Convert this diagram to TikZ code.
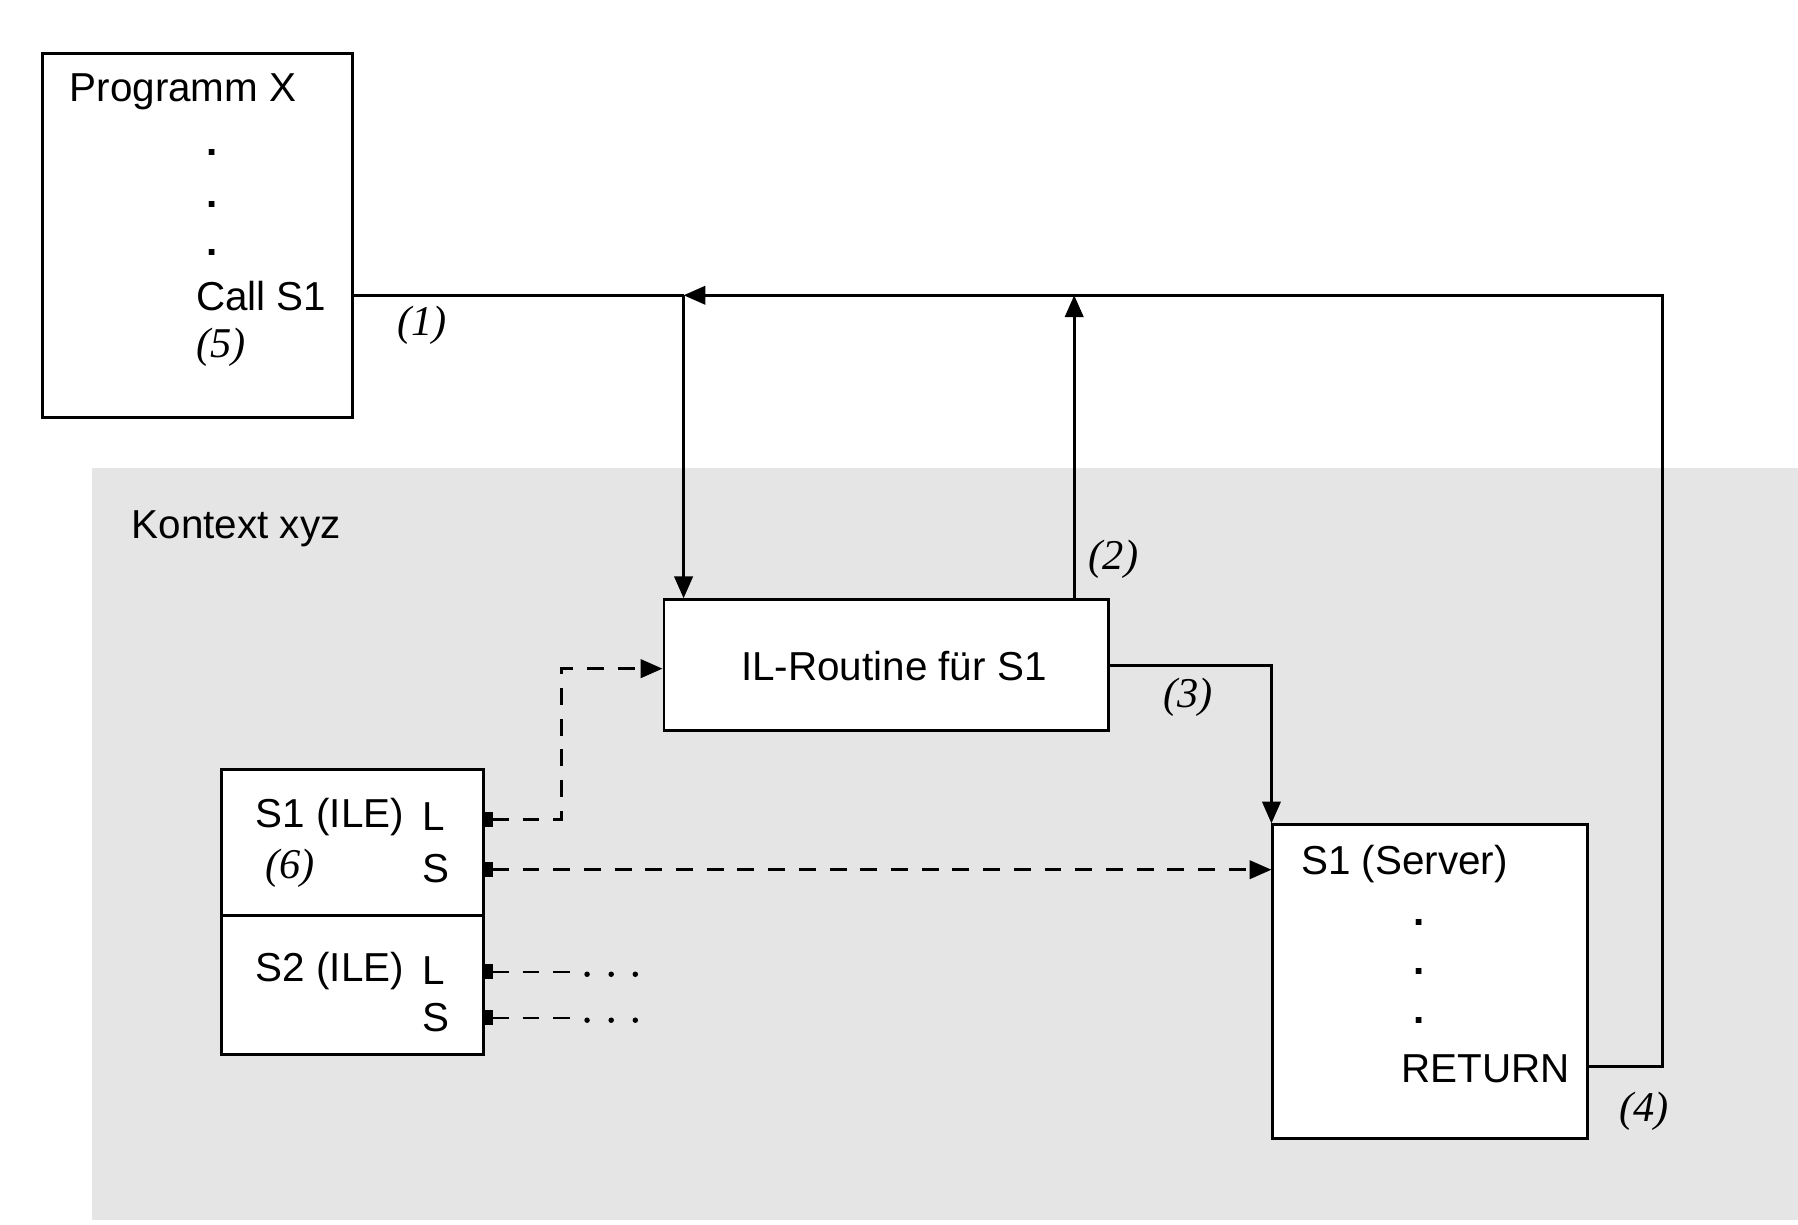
\documentclass[tikz,border=0pt]{standalone}
\usepackage{fontspec}
\setmainfont{Liberation Sans}
\newfontfamily\numfont{Liberation Serif}
\usetikzlibrary{arrows.meta}
\begin{document}
\begin{tikzpicture}[x=0.01cm,y=-0.01cm,
  box/.style={draw,line width=0.7pt,fill=white,rectangle,inner sep=0pt},
  txt/.style={inner sep=0pt,font=\fontsize{10}{12}\selectfont},
  num/.style={inner sep=0pt,font=\numfont\itshape\fontsize{10.5}{12}\selectfont},
  dotc/.style={inner sep=0pt,font=\bfseries\fontsize{10}{12}\selectfont},
  conn/.style={line width=0.7pt},
  arr/.style={-{Triangle[length=1.9mm,width=1.6mm]}},
  dconn/.style={line width=0.7pt,dash pattern=on 4.2pt off 3.4pt},
  sqarr/.style={{Square[length=0.7mm,width=1.3mm]}-{Triangle[length=1.9mm,width=1.6mm]}},
  sq/.style={{Square[length=0.7mm,width=1.3mm]}-}
]
\useasboundingbox (0,0) rectangle (1565,1066);
% context background
\fill[black!10] (80,407) rectangle (1565,1062);
% boxes
\node[box,minimum width=2.70cm,minimum height=3.16cm] (prog) at (172,205) {};
\node[box,minimum width=3.87cm,minimum height=1.14cm] (il) at (771.5,579) {};
\node[box,minimum width=2.74cm,minimum height=2.73cm] (server) at (1245,854.5) {};
\node[box,minimum width=2.28cm,minimum height=1.27cm] (ile1) at (307,733.5) {};
\node[box,minimum width=2.28cm,minimum height=1.21cm] (ile2) at (307,857.5) {};
% texts
\node[txt,anchor=west] (tprog) at (60,80) {Programm X};
\node[dotc] (pd1) at (185,133) {.};
\node[dotc] (pd2) at (185,178) {.};
\node[dotc] (pd3) at (185,220) {.};
\node[txt,anchor=west] (tcall) at (170,258) {Call S1};
\node[num,anchor=west] (n5) at (170,302) {(5)};
\node[num,anchor=west] (n1) at (345,283) {(1)};
\node[txt,anchor=west] (tkon) at (114,460) {Kontext xyz};
\node[num,anchor=west] (n2) at (947,487) {(2)};
\node[txt] (til) at (778,580) {IL-Routine für S1};
\node[num,anchor=west] (n3) at (1012,607) {(3)};
\node[txt,anchor=west] (tserv) at (1132,752) {S1 (Server)};
\node[dotc] (sd1) at (1235,803) {.};
\node[dotc] (sd2) at (1235,846) {.};
\node[dotc] (sd3) at (1235,888) {.};
\node[txt,anchor=east] (tret) at (1367,930) {RETURN};
\node[num,anchor=west] (n4) at (1409,967) {(4)};
\node[txt,anchor=west] (ts1) at (222,711) {S1 (ILE)};
\node[txt,anchor=west] (ts1l) at (367,711) {L};
\node[num,anchor=west] (n6) at (230,756) {(6)};
\node[txt,anchor=west] (ts1s) at (367,756) {S};
\node[txt,anchor=west] (ts2) at (222,845) {S2 (ILE)};
\node[txt,anchor=west] (ts2l) at (367,845) {L};
\node[txt,anchor=west] (ts2s) at (367,886) {S};
% junction coordinates
\coordinate (j1) at (595,257);
\coordinate (j2) at (935,257);
\coordinate (j3) at (1447,257);
\coordinate (j4) at (1447,928);
\coordinate (d1) at (489,713);
\coordinate (d2) at (489,582);
\coordinate (sl) at (760,757);
\coordinate (l2) at (500,846);
\coordinate (s2) at (500,886);
% connectors
\draw[conn] (prog.east |- j1) -- (j1);
\draw[conn,arr] (j1) -- (j1 |- il.north);
\draw[conn,arr] (j2 |- il.north) -- (j2);
\draw[conn] (j2) -- (j3);
\draw[conn,arr] (server.east |- j4) -- (j4) -- (j3) -- (j1);
\draw[conn,arr] (il.east) -| (server.north west);
\draw[dconn,sqarr] (ile1.east |- d1) -- (d1) -- (d2) -- (il.west |- d2);
\draw[dconn,sqarr] (ile1.east |- sl) -- (server.west |- sl);
\draw[dconn,sq] (ile2.east |- l2) -- (l2);
\draw[dconn,sq] (ile2.east |- s2) -- (s2);
\foreach \xx in {511,532,553} {
  \fill (\xx,848) circle (2.4);
  \fill (\xx,888) circle (2.4);
}
\end{tikzpicture}
\end{document}
